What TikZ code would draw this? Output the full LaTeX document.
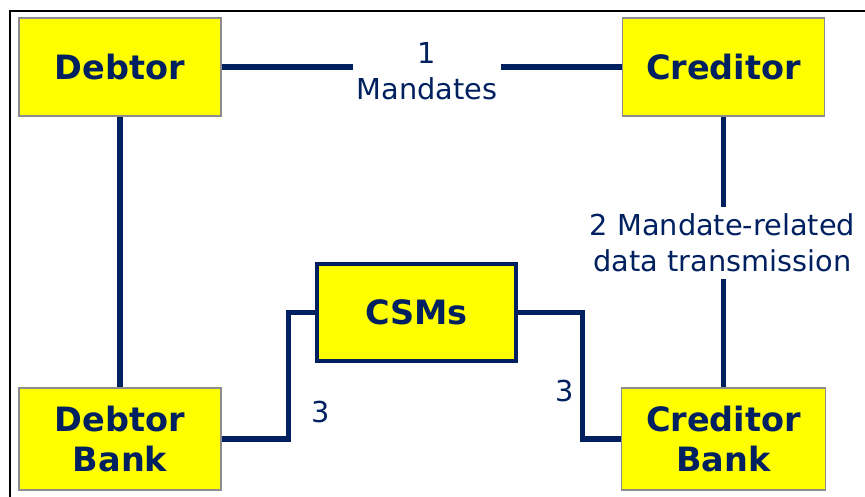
\documentclass[tikz,border=0pt]{standalone}
\usepackage{fontspec}
\setmainfont{DejaVu Sans}
\definecolor{navy}{RGB}{0,32,96}
\definecolor{boxgray}{RGB}{140,140,140}
\definecolor{boxyellow}{RGB}{255,255,0}
\begin{document}
\begin{tikzpicture}[x=1pt,y=-1pt,
  party/.style={draw=boxgray,line width=1.2pt,fill=boxyellow,text=navy,
    font=\fontsize{33.5}{40}\selectfont\bfseries,align=center,inner sep=0pt},
  csm/.style={party,draw=navy,line width=4pt},
  lab/.style={text=navy,font=\fontsize{28.8}{36.5}\selectfont,align=center,inner xsep=3.5pt,inner ysep=6pt},
  conn/.style={draw=navy,line width=5.5pt},
  num/.style={text=navy,font=\fontsize{28.8}{36.5}\selectfont}]
\useasboundingbox (0,0) rectangle (865,497);
\draw[line width=1.5pt] (10,497) -- (10,11) -- (865,11);
\node[party,minimum width=202pt,minimum height=98pt] (D) at (120,67) {Debtor};
\node[party,minimum width=202pt,minimum height=98pt] (C) at (723.5,67) {Creditor};
\node[party,minimum width=202pt,minimum height=102pt] (DB) at (120,439) {Debtor\\Bank};
\node[party,minimum width=204pt,minimum height=102pt] (CB) at (723.5,439) {Creditor\\Bank};
\node[lab] (L1) at (427,71) {1\\Mandates};
\node[lab] (L2) at (722.5,243) {2 Mandate-related\\data transmission};
\node[num] (L3a) at (320.5,412) {3};
\node[num] (L3b) at (565,391) {3};
\draw[conn] (D.east) -- (D.east -| L1.west);
\draw[conn] (L1.east |- C.west) -- (C.west);
\draw[conn] (D.south) -- (DB.north);
\draw[conn] (C.south) -- (C.south |- L2.north);
\draw[conn] (CB.north |- L2.south) -- (CB.north);
\draw[conn] (DB.east) -- ++(67,0) |- (416.5,312.5);
\draw[conn] (416.5,312.5) -- ++(166,0) |- (CB.west);
\node[csm,minimum width=199pt,minimum height=97pt] (S) at (416.5,312.5) {CSMs};
\end{tikzpicture}
\end{document}
